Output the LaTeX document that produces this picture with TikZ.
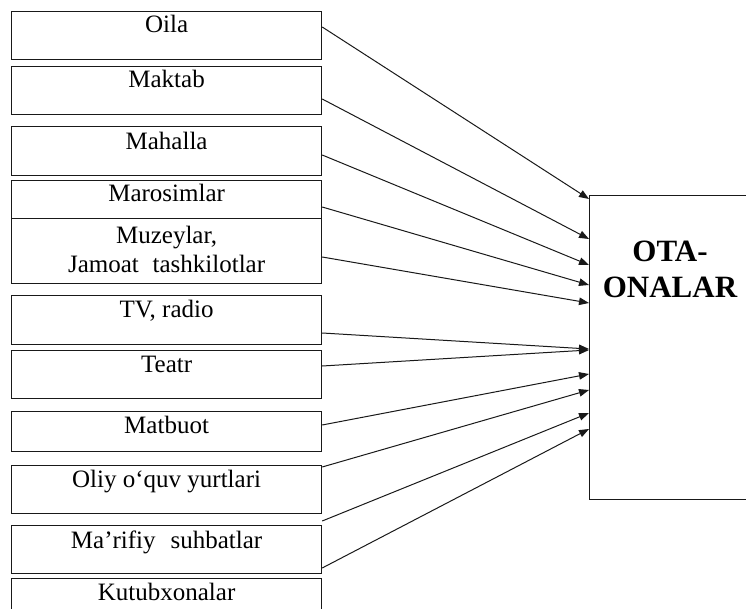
\documentclass[tikz,border=0pt]{standalone}
\usepackage{fontspec}
\setmainfont{Liberation Serif}
\usetikzlibrary{arrows.meta,calc}
\begin{document}
\begin{tikzpicture}[x=1pt,y=-1pt,
  box/.style={draw=black!90, line width=1.2pt, rectangle, inner sep=0pt, minimum width=310pt, anchor=north west},
  lbl/.style={font=\fontsize{25}{29}\selectfont, inner sep=0pt, anchor=base},
  conn/.style={draw=black!90, line width=1pt, -{Triangle[length=10pt,width=7.5pt]}}
]
\useasboundingbox (0,0) rectangle (746,609);
\clip (0,0) rectangle (746,609);
% left boxes
\node[box, minimum height=48pt] (b1) at (11,11) {};
\node[box, minimum height=48pt] (b2) at (11,66) {};
\node[box, minimum height=49pt] (b3) at (11,126) {};
\node[box, minimum height=38pt] (b4) at (11,180) {};
\node[box, minimum height=65pt] (b5) at (11,218) {};
\node[box, minimum height=49pt] (b6) at (11,295) {};
\node[box, minimum height=48pt] (b7) at (11,350) {};
\node[box, minimum height=40pt] (b8) at (11,411) {};
\node[box, minimum height=48pt] (b9) at (11,465) {};
\node[box, minimum height=48pt] (b10) at (11,525) {};
\node[box, minimum height=42pt] (b11) at (11,578) {};
% labels
\node[lbl] (t1) at ($(b1.north)+(0,22)$) {Oila};
\node[lbl] (t2) at ($(b2.north)+(0,22)$) {Maktab};
\node[lbl] (t3) at ($(b3.north)+(0,24)$) {Mahalla};
\node[lbl] (t4) at ($(b4.north)+(0,22)$) {Marosimlar};
\node[lbl, anchor=north, align=center] (t5) at ($(b5.north)+(0,8)$) {Muzeylar,\\Jamoat\hspace{0.55em}tashkilotlar};
\node[lbl] (t6) at ($(b6.north)+(0,22)$) {TV, radio};
\node[lbl] (t7) at ($(b7.north)+(0,22)$) {Teatr};
\node[lbl] (t8) at ($(b8.north)+(0,22)$) {Matbuot};
\node[lbl] (t9) at ($(b9.north)+(0,22)$) {Oliy o‘quv yurtlari};
\node[lbl] (t10) at ($(b10.north)+(0,23)$) {Ma’rifiy\hspace{0.6em}suhbatlar};
\node[lbl] (t11) at ($(b11.north)+(0,22)$) {Kutubxonalar};
% target box
\node[box, minimum width=180pt, minimum height=304pt] (ota) at (589,195) {};
\node[font=\bfseries\fontsize{31}{36}\selectfont, align=center, inner sep=0pt, anchor=north] (otat) at (670,241) {OTA-\\ONALAR};
% connectors
\draw[conn] ($(b1.north east)+(0,16)$) -- ($(ota.north west)+(0,4)$);
\draw[conn] ($(b2.north east)+(0,33)$) -- ($(ota.north west)+(0,44)$);
\draw[conn] ($(b3.north east)+(0,29)$) -- ($(ota.north west)+(0,70)$);
\draw[conn] ($(b4.north east)+(0,27)$) -- ($(ota.north west)+(0,90)$);
\draw[conn] ($(b5.north east)+(0,39)$) -- ($(ota.north west)+(0,108)$);
\draw[conn] ($(b6.north east)+(0,38)$) -- ($(ota.north west)+(0,154)$);
\draw[conn] ($(b7.north east)+(0,16)$) -- ($(ota.north west)+(0,155)$);
\draw[conn] ($(b8.north east)+(0,14)$) -- ($(ota.north west)+(0,179)$);
\draw[conn] ($(b9.north east)+(0,2)$) -- ($(ota.north west)+(0,195)$);
\draw[conn] ($(b10.north east)+(0,-4)$) -- ($(ota.north west)+(0,218)$);
\draw[conn] ($(b10.north east)+(0,43)$) -- ($(ota.north west)+(0,234)$);
\end{tikzpicture}
\end{document}
